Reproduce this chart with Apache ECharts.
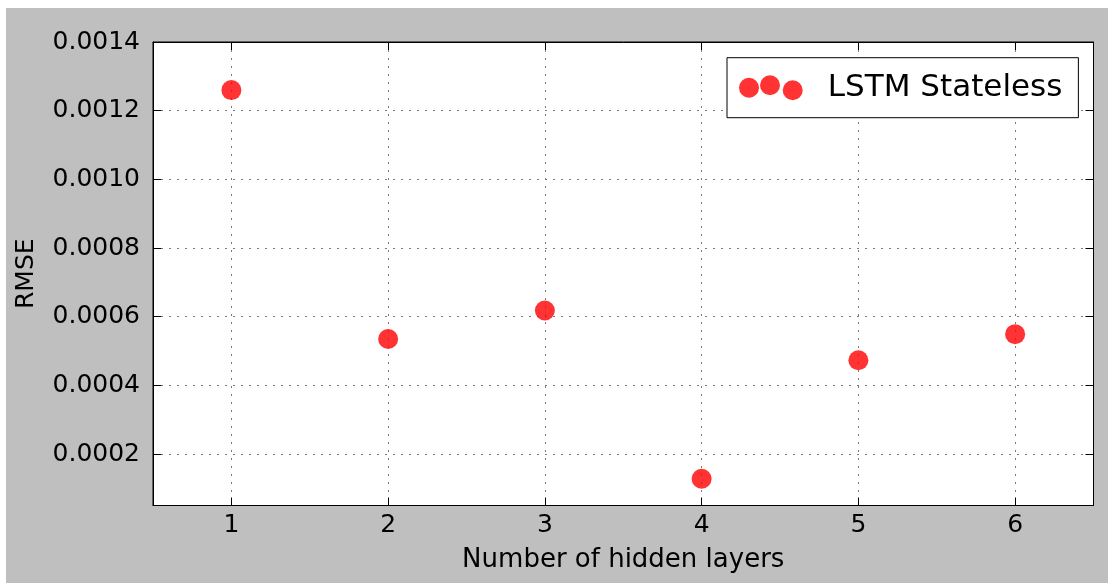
<!DOCTYPE html>
<html>
<head>
<meta charset="utf-8">
<script src="https://cdn.jsdelivr.net/npm/echarts@6/dist/echarts.min.js"></script>
<style>
  html, body { margin: 0; padding: 0; background: #ffffff; }
  #chart { position: absolute; left: 6px; top: 8px; width: 1102px; height: 575px; }
</style>
</head>
<body>
<div id="chart"></div>
<script>
// ---- data ----
const layers = [1, 2, 3, 4, 5, 6];
const rmse = [0.00126, 0.000535, 0.000618, 0.000128, 0.000473, 0.000549];
const seriesName = 'LSTM Stateless';
const xTitle = 'Number of hidden layers';
const yTitle = 'RMSE';
const xRange = [0.5, 6.5];
const yRange = [0.00005, 0.0014];
const yStep = 0.0002;

const points = layers.map((x, i) => [x, rmse[i]]);

const FONT = 'DejaVu Sans';
const dotted = { show: true, lineStyle: { color: '#7a7a7a', width: 1, type: [2, 6] } };
const tickIn = { show: true, inside: true, length: 8, lineStyle: { color: '#000', width: 1 } };
const axisLn = { show: true, onZero: false, lineStyle: { color: '#000', width: 1 } };

function xLabel(v) {
  return Math.abs(v - Math.round(v)) < 1e-9 ? String(Math.round(v)) : '';
}
function yLabel(v) {
  const k = v / yStep;
  return Math.abs(k - Math.round(k)) < 1e-6 ? v.toFixed(4) : '';
}

// legend icon: three overlapping dots, like matplotlib's scatterpoints=3
const icon = 'path://' +
  'M0 12.6A10 10 0 1 0 20 12.6A10 10 0 1 0 0 12.6Z' +
  'M21 10A10 10 0 1 0 41 10A10 10 0 1 0 21 10Z' +
  'M43.7 15A10 10 0 1 0 63.7 15A10 10 0 1 0 43.7 15Z';

const chart = echarts.init(document.getElementById('chart'), null, { renderer: 'canvas' });
chart.setOption({
  backgroundColor: '#bfbfbf',
  animation: false,
  textStyle: { fontFamily: FONT },
  grid: {
    left: 147, right: 14.5, top: 34, bottom: 77.5,
    show: true, backgroundColor: '#ffffff', borderColor: '#000', borderWidth: 1,
    containLabel: false, outerBoundsMode: 'none'
  },
  legend: {
    show: true,
    left: 721, top: 49.7,
    orient: 'horizontal',
    backgroundColor: '#ffffff',
    borderColor: '#000', borderWidth: 1, borderRadius: 0,
    padding: [14.5, 16, 14.5, 12],
    itemWidth: 64, itemHeight: 25,
    data: [{ name: seriesName, icon: icon }],
    textStyle: { fontFamily: FONT, fontSize: 31, color: '#000', lineHeight: 25, padding: [0, 0, 0, 20] }
  },
  xAxis: [
    {
      type: 'value', position: 'bottom', min: xRange[0], max: xRange[1], splitNumber: 6,
      name: xTitle, nameLocation: 'middle', nameGap: 42,
      nameTextStyle: { fontFamily: FONT, fontSize: 26, color: '#000' },
      axisLine: axisLn, axisTick: tickIn, splitLine: dotted,
      axisLabel: { show: true, margin: 7, fontFamily: FONT, fontSize: 25, color: '#000', formatter: xLabel }
    },
    {
      type: 'value', position: 'top', min: xRange[0], max: xRange[1], splitNumber: 6,
      axisLine: axisLn, axisTick: tickIn, splitLine: { show: false }, axisLabel: { show: false }
    }
  ],
  yAxis: [
    {
      type: 'value', position: 'left', min: yRange[0], max: yRange[1], splitNumber: 7,
      name: yTitle, nameLocation: 'middle', nameGap: 114, nameRotate: 90,
      nameTextStyle: { fontFamily: FONT, fontSize: 25, color: '#000' },
      axisLine: axisLn, axisTick: tickIn, splitLine: dotted,
      axisLabel: { show: true, margin: 13, fontFamily: FONT, fontSize: 25, color: '#000', formatter: yLabel }
    },
    {
      type: 'value', position: 'right', min: yRange[0], max: yRange[1], splitNumber: 7,
      axisLine: axisLn, axisTick: tickIn, splitLine: { show: false }, axisLabel: { show: false }
    }
  ],
  series: [
    {
      name: seriesName,
      type: 'scatter',
      xAxisIndex: 0, yAxisIndex: 0,
      symbol: 'circle',
      symbolSize: 20,
      itemStyle: { color: '#ff0000', opacity: 0.8 },
      emphasis: { disabled: true },
      data: points,
      z: 5
    }
  ]
});
</script>
</body>
</html>
